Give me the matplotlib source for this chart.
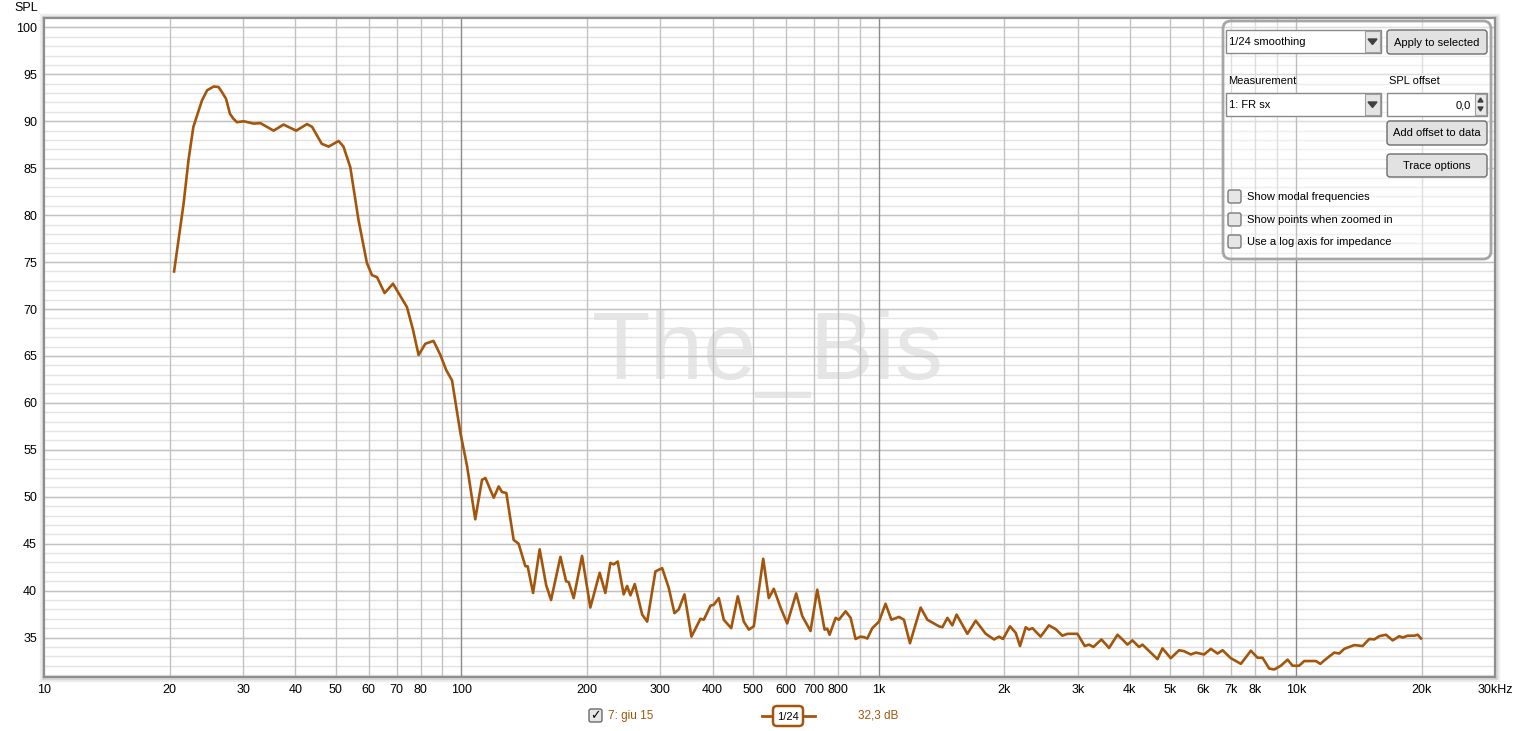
import matplotlib.pyplot as plt
import matplotlib.patches as mpatches

# Frequency response (Hz, dB SPL)
freq_hz = [20.5, 21.0, 21.6, 22.2, 22.8, 23.9, 24.6, 25.5, 26.2, 26.7, 27.3, 27.9, 28.4,
           29.0, 30.1, 31.8, 33.0,
           35.5, 37.5, 40.2, 42.7, 43.9, 46.3, 48.1, 50.8, 52.2, 54.2, 56.7, 59.4,
           61.1, 62.8, 65.5, 68.6, 71.4, 74.1, 76.6, 79.0, 82.0, 85.8, 89.1, 92.0,
           95.0, 99.5, 103.2, 108.0, 112.1, 114.2, 119.6, 122.9, 125.2, 128.2, 133.5,
           137.2, 142.4, 144.2, 148.6, 154.1, 159.7, 164.1, 172.8, 178.3, 180.9, 185.9,
           194.7, 203.8, 214.6, 221.4, 227.6, 231.8, 237.0, 245.0, 249.7, 254.3, 260.4,
           271.3, 278.9, 291.9, 302.9, 314.1, 324.2, 331.9, 342.6, 356.1, 374.2, 381.2,
           395.5, 402.8, 414.1, 425.6, 443.4, 459.8, 475.3, 488.7, 502.3, 529.0, 545.6,
           560.9, 582.1, 603.9, 634.7, 656.1, 686.8, 712.9, 742.2, 753.4, 763.0, 788.7,
           803.2, 833.5, 856.9, 880.7, 905.3, 921.9, 939.5, 965.8, 1002, 1039, 1073,
           1119, 1150, 1189, 1261, 1309, 1395, 1422, 1462, 1502, 1538, 1632, 1709,
           1806, 1891, 1944, 1987, 2065, 2131, 2182, 2252, 2293, 2337, 2445, 2560,
           2657, 2757, 2834, 2995, 3119, 3194, 3272, 3420, 3567, 3736, 3840, 3948,
           4058, 4208, 4289, 4490, 4659, 4789, 5013, 5248, 5395, 5600, 5757, 6027,
           6254, 6490, 6672, 6985, 7382, 7800, 8094, 8319, 8630, 8872, 9204, 9550,
           9817, 10180, 10470, 11170, 11440, 11910, 12360, 12700, 13060, 13800, 14450,
           14990, 15410, 15840, 16440, 17060, 17690, 18030, 18530, 19220, 19590, 19950]
spl_db = [74.0, 77.3, 81.2, 85.9, 89.4, 92.2, 93.3, 93.7, 93.65, 93.1, 92.4, 90.8, 90.3,
          89.9, 90.0, 89.75, 89.8,
          89.0, 89.65, 89.0, 89.7, 89.4, 87.6, 87.3, 87.9, 87.3, 85.1, 79.5, 74.9,
          73.6, 73.4, 71.7, 72.7, 71.4, 70.2, 67.8, 65.1, 66.3, 66.6, 65.1, 63.5,
          62.4, 56.8, 53.3, 47.6, 51.8, 52.0, 49.9, 51.1, 50.5, 50.4, 45.4,
          45.0, 42.6, 42.6, 39.75, 44.4, 40.6, 39.0, 43.6, 41.0, 40.9, 39.2,
          43.7, 38.2, 41.9, 39.75, 42.95, 42.8, 43.1, 39.6, 40.5, 39.5, 40.7,
          37.45, 36.7, 42.05, 42.4, 40.3, 37.6, 38.0, 39.6, 35.1, 37.0, 36.9,
          38.4, 38.5, 39.2, 36.9, 36.0, 39.4, 36.7, 35.85, 36.2, 43.4, 39.2,
          40.2, 38.2, 36.5, 39.7, 37.3, 35.7, 40.1, 35.85, 35.95, 35.3, 37.1,
          36.9, 37.8, 37.1, 34.85, 35.1, 35.05, 34.9, 36.0, 36.7, 38.6, 36.9,
          37.2, 36.9, 34.4, 38.2, 36.9, 36.2, 36.1, 37.1, 36.3, 37.45, 35.4, 36.8,
          35.4, 34.8, 35.1, 34.85, 36.2, 35.5, 34.1, 36.1, 35.85, 36.0, 35.1, 36.3,
          35.9, 35.2, 35.4, 35.4, 34.1, 34.25, 34.0, 34.8, 33.9, 35.3, 34.8, 34.25,
          34.7, 34.0, 34.25, 33.4, 32.7, 33.85, 32.8, 33.65, 33.55, 33.2, 33.4, 33.2,
          33.8, 33.3, 33.65, 32.8, 32.2, 33.6, 32.85, 32.85, 31.7, 31.6, 32.0, 32.65,
          32.0, 32.0, 32.5, 32.5, 32.2, 32.85, 33.4, 33.3, 33.8, 34.2, 34.1,
          34.85, 34.8, 35.15, 35.3, 34.7, 35.15, 35.0, 35.2, 35.2, 35.3, 34.9]

y_major = list(range(35, 101, 5))
y_minor = list(range(31, 101))
x_decades = [100, 1000, 10000]
x_grid = [m * d for d in (10, 100, 1000, 10000) for m in range(2, 10) if m * d < 30000]
x_ticks = [10, 20, 30, 40, 50, 60, 70, 80, 100, 200, 300, 400, 500, 600, 700, 800,
           1000, 2000, 3000, 4000, 5000, 6000, 7000, 8000, 10000, 20000, 30000]
x_labels = ["10", "20", "30", "40", "50", "60", "70", "80", "100", "200", "300", "400",
            "500", "600", "700", "800", "1k", "2k", "3k", "4k", "5k", "6k", "7k", "8k",
            "10k", "20k", "30kHz"]

trace_color = "#a3560b"
W, H = 1516, 731
font = ["Liberation Sans", "DejaVu Sans"]
plt.rcParams["font.family"] = font

fig = plt.figure(figsize=(W / 100, H / 100), dpi=100)
fig.patch.set_facecolor("white")

# plot area (pixel box 44..1495 x 18..677)
ax = fig.add_axes([44 / W, 1 - 677 / H, (1495 - 44) / W, (677 - 18) / H])
ax.set_xscale("log")
ax.set_xlim(10, 30000)
ax.set_ylim(30.8, 101.0)

for v in y_minor:
    ax.axhline(v, color="#e2e2e2", lw=1, zorder=1)
for v in y_major:
    ax.axhline(v, color="#c2c2c2", lw=1, zorder=1.1)
for v in x_grid:
    ax.axvline(v, color="#c2c2c2", lw=1, zorder=1.1)
for v in x_decades:
    ax.axvline(v, color="#8a8a8a", lw=1, zorder=1.2)

ax.text(0.4986, 0.4522, "The_Bis", transform=ax.transAxes, ha="center", va="baseline",
        fontsize=69, color="#e6e6e6", zorder=0.5)

ax.plot(freq_hz, spl_db, color=trace_color, lw=1.9, zorder=3, solid_joinstyle="round")

ax.set_xticks(x_ticks)
ax.set_xticklabels(x_labels)
ax.set_xticks([], minor=True)
ax.set_yticks(y_major)
ax.tick_params(length=0, labelsize=9, colors="black")
ax.tick_params(axis="x", pad=5)
ax.tick_params(axis="y", pad=5)
for s in ax.spines.values():
    s.set_color("#8e8e8e")
    s.set_linewidth(1.6)

# soft shadow round the plot area
for pad, col in ((4, "#eeeeee"), (2, "#d6d6d6")):
    fig.add_artist(mpatches.Rectangle(((44 - pad) / W, 1 - (677 + pad) / H),
                                      (1495 - 44 + 2 * pad) / W, (677 - 18 + 2 * pad) / H,
                                      transform=fig.transFigure, color=col, zorder=-1))

# overlay in pixel coordinates for the REW widgets
ov = fig.add_axes([0, 0, 1, 1], zorder=5)
ov.set_xlim(0, W)
ov.set_ylim(H, 0)
ov.axis("off")

ov.text(38, 8, "SPL", ha="right", va="center", fontsize=9)

ui = 8


def button(x0, y0, x1, y1, label):
    ov.add_patch(mpatches.FancyBboxPatch((x0, y0), x1 - x0, y1 - y0,
                                         boxstyle="round,pad=0,rounding_size=3",
                                         fc="#e2e2e2", ec="#6c6c6c", lw=1))
    ov.text((x0 + x1) / 2, (y0 + y1) / 2 + 0.5, label, ha="center", va="center", fontsize=ui)


def dropdown(x0, y0, x1, y1, label):
    ov.add_patch(mpatches.Rectangle((x0, y0), x1 - x0, y1 - y0, fc="white", ec="#8a8a8a", lw=1))
    ov.add_patch(mpatches.Rectangle((x1 - 16, y0 + 1), 15, y1 - y0 - 2, fc="#e4e4e4",
                                    ec="#a0a0a0", lw=0.8))
    cx, cy = x1 - 8.5, (y0 + y1) / 2
    ov.add_patch(mpatches.Polygon([(cx - 4.5, cy - 2.5), (cx + 4.5, cy - 2.5), (cx, cy + 3)],
                                  color="#404040"))
    ov.text(x0 + 3, cy + 0.5, label, ha="left", va="center", fontsize=ui)


def checkbox(x0, y0, label):
    ov.add_patch(mpatches.FancyBboxPatch((x0, y0), 13, 13, boxstyle="round,pad=0,rounding_size=2",
                                         fc="#e6e6e6", ec="#7a7a7a", lw=1))
    ov.text(x0 + 19, y0 + 7, label, ha="left", va="center", fontsize=ui)


ov.add_patch(mpatches.FancyBboxPatch((1223, 21), 268, 238, boxstyle="round,pad=0,rounding_size=8",
                                     fc=(1, 1, 1, 0.45), ec="#a6a6a6", lw=2))
dropdown(1226, 30, 1381, 53, "1/24 smoothing")
button(1387, 30, 1487, 54, "Apply to selected")
ov.text(1228, 81, "Measurement", ha="left", va="center", fontsize=ui)
ov.text(1389, 81, "SPL offset", ha="left", va="center", fontsize=ui)
dropdown(1226, 93, 1381, 116, "1: FR sx")
ov.add_patch(mpatches.Rectangle((1387, 93), 100, 23, fc="white", ec="#8a8a8a", lw=1))
ov.add_patch(mpatches.Rectangle((1475, 94), 11, 21, fc="#e8e8e8", ec="#a0a0a0", lw=0.8))
ov.add_patch(mpatches.Polygon([(1478, 102), (1483, 102), (1480.5, 98)], color="#404040"))
ov.add_patch(mpatches.Polygon([(1478, 107), (1483, 107), (1480.5, 111)], color="#404040"))
ov.text(1471, 105, "0,0", ha="right", va="center", fontsize=ui)
button(1387, 121, 1487, 145, "Add offset to data")
button(1387, 154, 1487, 177, "Trace options")
checkbox(1228, 190, "Show modal frequencies")
checkbox(1228, 213, "Show points when zoomed in")
checkbox(1228, 235, "Use a log axis for impedance")

# trace legend under the plot
ov.add_patch(mpatches.FancyBboxPatch((589, 709), 13, 13, boxstyle="round,pad=0,rounding_size=2",
                                     fc="#e6e6e6", ec="#6a6a6a", lw=1))
ov.text(595.5, 716, "\u2713", ha="center", va="center", fontsize=9, family="DejaVu Sans",
        fontweight="bold")
ov.text(608, 716, "7: giu 15", ha="left", va="center", fontsize=8.5, color=trace_color)
ov.plot([762, 815], [716, 716], color=trace_color, lw=2)
ov.add_patch(mpatches.FancyBboxPatch((773, 706), 30, 20, boxstyle="round,pad=0,rounding_size=4",
                                     fc="white", ec=trace_color, lw=1.8, zorder=3))
ov.text(788, 716.5, "1/24", ha="center", va="center", fontsize=8, zorder=4)
ov.text(858, 716, "32,3 dB", ha="left", va="center", fontsize=8.5, color=trace_color)

fig.savefig("out.png", dpi=100)
